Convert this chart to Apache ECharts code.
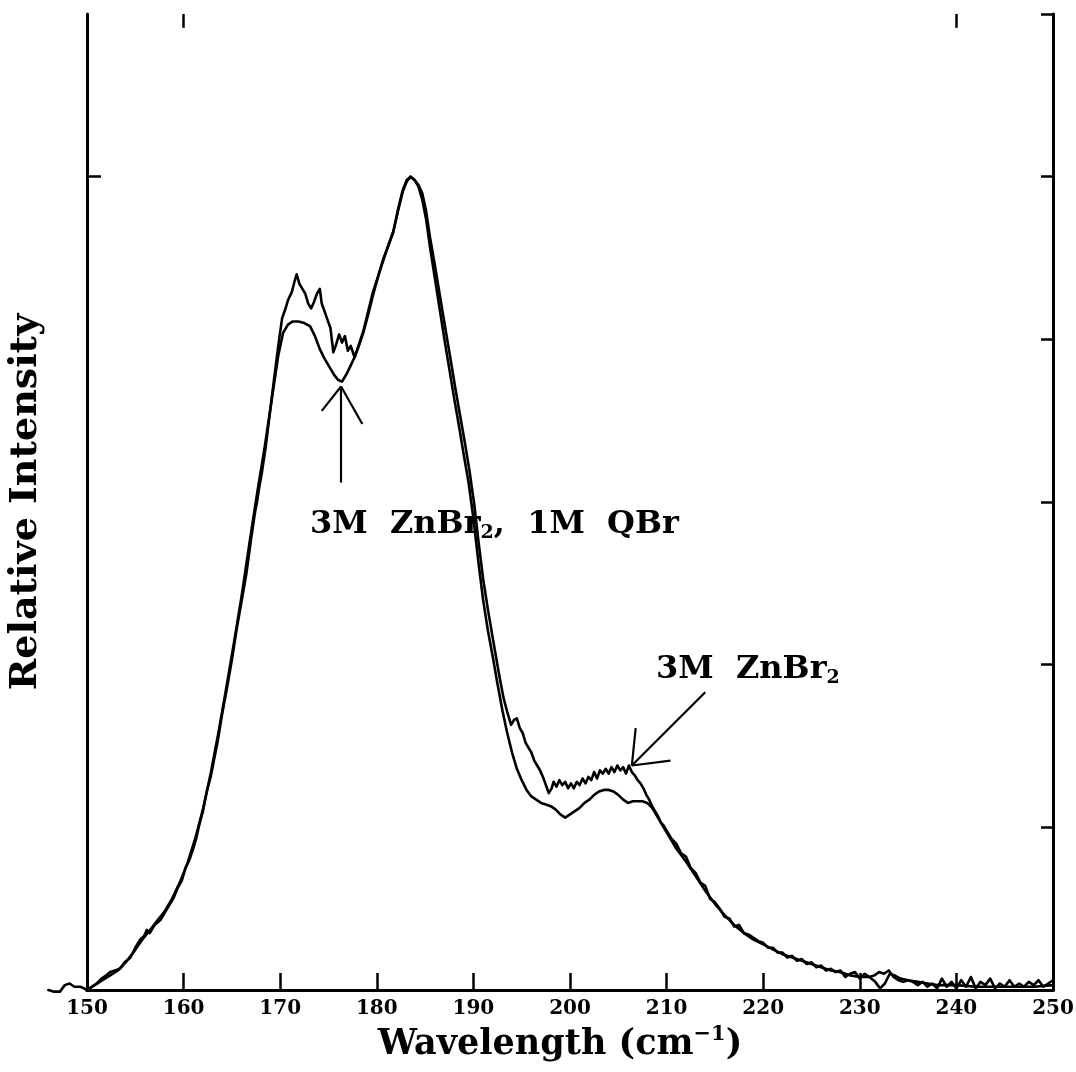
<!DOCTYPE html>
<html>
<head>
<meta charset="utf-8">
<title>Raman spectra of ZnBr2 solutions</title>
<script src="https://cdn.jsdelivr.net/npm/echarts@6/dist/echarts.min.js"></script>
<style>
  html, body { margin: 0; padding: 0; background: #fff; }
  #chart { width: 1076px; height: 1072px; }
</style>
</head>
<body>
<div id="chart"></div>
<script>
// Wavenumber axis ticks
const xTicks = [150, 160, 170, 180, 190, 200, 210, 220, 230, 240, 250];
const topTicks = [160, 240];
const leftTicks = [5];

// 3M ZnBr2 (noisy trace)
const znX = [
  146.0, 146.6, 147.2, 147.7, 148.2, 148.7, 149.3, 149.7, 150.0, 150.5,
  151.0, 151.5, 152.0, 152.4, 152.9, 153.4, 153.9, 154.5, 155.0, 155.5,
  155.9, 156.2, 156.5, 157.0, 157.6, 158.1, 158.6, 159.0, 159.4, 159.8,
  160.2, 160.6, 161.0, 161.3, 161.6, 162.0, 162.4, 162.8, 163.1, 163.5,
  164.0, 164.5, 165.0, 165.5, 166.0, 166.5, 167.0, 167.4, 167.6, 167.8,
  168.1, 168.5, 169.0, 169.5, 169.8, 170.2, 170.5, 170.8, 171.2, 171.5,
  171.7, 172.0, 172.3, 172.6, 172.9, 173.2, 173.5, 173.8, 174.1, 174.3,
  174.6, 174.9, 175.2, 175.5, 175.8, 176.1, 176.4, 176.7, 177.0, 177.3,
  177.7, 178.1, 178.6, 179.1, 179.6, 180.1, 180.7, 181.1, 181.7, 182.2,
  182.7, 183.1, 183.5, 183.9, 184.3, 184.7, 185.1, 185.5, 186.0, 186.5,
  187.0, 187.6, 188.1, 188.6, 189.1, 189.6, 190.1, 190.5, 191.0, 191.5,
  192.1, 192.6, 193.1, 193.5, 193.9, 194.2, 194.5, 194.8, 195.1, 195.4,
  195.7, 196.0, 196.3, 196.6, 196.9, 197.2, 197.5, 197.8, 198.1, 198.3,
  198.6, 198.9, 199.2, 199.5, 199.8, 200.1, 200.4, 200.7, 201.0, 201.3,
  201.6, 201.9, 202.2, 202.5, 202.8, 203.1, 203.4, 203.7, 204.0, 204.3,
  204.6, 204.9, 205.2, 205.5, 205.8, 206.1, 206.4, 206.7, 207.0, 207.3,
  207.6, 207.9, 208.2, 208.5, 208.8, 209.1, 209.4, 209.7, 210.0, 210.5,
  211.0, 211.5, 212.0, 212.5, 213.0, 213.5, 214.0, 214.5, 215.0, 215.5,
  216.0, 216.5, 217.0, 217.5, 218.0, 218.5, 219.0, 219.5, 220.0, 220.5,
  221.0, 221.5, 222.0, 222.5, 223.0, 223.5, 224.0, 224.5, 225.0, 225.5,
  226.0, 226.5, 227.0, 227.5, 228.0, 228.5, 229.0, 229.5, 230.0, 230.5,
  231.0, 231.5, 232.0, 232.5, 233.0, 233.5, 234.0, 234.5, 235.0, 235.5,
  236.0, 236.5, 237.0, 237.5, 238.0, 238.5, 239.0, 239.5, 240.0, 240.5,
  241.0, 241.5, 242.0, 242.5, 243.0, 243.5, 244.0, 244.5, 245.0, 245.5,
  246.0, 246.5, 247.0, 247.5, 248.0, 248.5, 249.0, 249.5, 250.0
];
const znY = [
  0.00, -0.01, -0.01, 0.03, 0.04, 0.02, 0.02, 0.01, 0.00, 0.02,
  0.04, 0.07, 0.09, 0.11, 0.12, 0.13, 0.17, 0.20, 0.26, 0.31,
  0.33, 0.37, 0.35, 0.40, 0.43, 0.48, 0.53, 0.57, 0.63, 0.67,
  0.75, 0.80, 0.87, 0.93, 1.01, 1.10, 1.22, 1.31, 1.40, 1.52,
  1.70, 1.86, 2.03, 2.22, 2.39, 2.56, 2.78, 2.94, 3.00, 3.08,
  3.18, 3.34, 3.58, 3.82, 3.96, 4.13, 4.18, 4.24, 4.29, 4.36,
  4.40, 4.34, 4.31, 4.28, 4.22, 4.19, 4.23, 4.28, 4.31, 4.22,
  4.17, 4.12, 4.07, 3.92, 3.97, 4.03, 3.98, 4.02, 3.93, 3.96,
  3.89, 3.96, 4.05, 4.17, 4.29, 4.38, 4.50, 4.56, 4.66, 4.80,
  4.92, 4.98, 5.00, 4.98, 4.95, 4.90, 4.79, 4.63, 4.46, 4.28,
  4.10, 3.89, 3.71, 3.54, 3.37, 3.19, 2.98, 2.77, 2.53, 2.34,
  2.13, 1.96, 1.80, 1.71, 1.63, 1.66, 1.67, 1.61, 1.58, 1.52,
  1.49, 1.46, 1.41, 1.38, 1.35, 1.31, 1.26, 1.21, 1.24, 1.28,
  1.25, 1.29, 1.26, 1.28, 1.24, 1.27, 1.24, 1.28, 1.26, 1.30,
  1.27, 1.31, 1.29, 1.34, 1.30, 1.35, 1.33, 1.36, 1.33, 1.37,
  1.34, 1.38, 1.35, 1.37, 1.33, 1.38, 1.34, 1.32, 1.29, 1.27,
  1.24, 1.20, 1.17, 1.13, 1.10, 1.07, 1.03, 1.01, 0.98, 0.93,
  0.90, 0.84, 0.82, 0.75, 0.72, 0.66, 0.64, 0.56, 0.54, 0.50,
  0.45, 0.44, 0.39, 0.40, 0.35, 0.34, 0.32, 0.30, 0.29, 0.26,
  0.26, 0.23, 0.23, 0.20, 0.21, 0.18, 0.19, 0.16, 0.17, 0.14,
  0.15, 0.12, 0.13, 0.11, 0.12, 0.08, 0.10, 0.11, 0.07, 0.10,
  0.08, 0.09, 0.11, 0.10, 0.12, 0.08, 0.06, 0.05, 0.06, 0.05,
  0.03, 0.05, 0.02, 0.04, 0.01, 0.07, 0.02, 0.05, 0.01, 0.06,
  0.02, 0.08, 0.01, 0.05, 0.03, 0.07, 0.01, 0.04, 0.02, 0.06,
  0.02, 0.04, 0.02, 0.05, 0.03, 0.06, 0.02, 0.04, 0.06
];

// 3M ZnBr2, 1M QBr (smooth trace)
const qbrX = [
  150.0, 150.8, 151.6, 152.4, 153.2, 154.0, 154.8, 155.6, 156.4, 157.2,
  158.0, 158.8, 159.6, 160.4, 161.2, 162.0, 162.8, 163.6, 164.4, 165.2,
  166.0, 166.8, 167.6, 168.4, 169.2, 169.8, 170.3, 170.8, 171.3, 171.9,
  172.5, 173.1, 173.6, 174.1, 174.6, 175.2, 175.6, 176.0, 176.4, 176.9,
  177.3, 177.7, 178.2, 178.6, 179.1, 179.6, 180.2, 180.7, 181.2, 181.7,
  182.2, 182.7, 183.1, 183.5, 183.9, 184.3, 184.7, 185.1, 185.5, 186.0,
  186.5, 187.0, 187.5, 188.0, 188.5, 189.0, 189.5, 190.0, 190.5, 191.0,
  191.5, 192.0, 192.5, 193.0, 193.5, 194.0, 194.5, 195.0, 195.5, 196.0,
  196.5, 197.0, 197.5, 198.0, 198.5, 199.0, 199.5, 200.0, 200.5, 201.0,
  201.5, 202.0, 202.5, 203.0, 203.5, 204.0, 204.5, 205.0, 205.5, 206.0,
  206.5, 207.0, 207.5, 208.0, 208.5, 209.0, 209.5, 210.0, 210.5, 211.0,
  212.0, 213.0, 214.0, 215.0, 216.0, 217.0, 218.0, 219.0, 220.0, 221.0,
  222.0, 223.0, 224.0, 225.0, 226.0, 227.0, 228.0, 229.0, 230.0, 231.0,
  231.6, 232.1, 232.6, 233.1, 233.6, 234.2, 235.0, 236.0, 237.0, 238.0,
  239.0, 240.0, 242.0, 244.0, 246.0, 248.0, 250.0
];
const qbrY = [
  0.00, 0.03, 0.06, 0.09, 0.12, 0.17, 0.23, 0.30, 0.36, 0.42,
  0.48, 0.56, 0.66, 0.78, 0.93, 1.11, 1.33, 1.58, 1.85, 2.13,
  2.42, 2.74, 3.05, 3.34, 3.66, 3.90, 4.04, 4.09, 4.11, 4.11,
  4.10, 4.08, 4.02, 3.94, 3.88, 3.82, 3.78, 3.75, 3.74, 3.79,
  3.84, 3.89, 3.97, 4.04, 4.15, 4.27, 4.40, 4.49, 4.58, 4.66,
  4.79, 4.91, 4.97, 5.00, 4.98, 4.94, 4.86, 4.74, 4.57, 4.38,
  4.19, 4.00, 3.82, 3.64, 3.47, 3.29, 3.12, 2.90, 2.64, 2.40,
  2.21, 2.05, 1.88, 1.72, 1.58, 1.46, 1.36, 1.29, 1.23, 1.19,
  1.17, 1.15, 1.14, 1.13, 1.11, 1.08, 1.06, 1.08, 1.10, 1.12,
  1.15, 1.17, 1.20, 1.22, 1.23, 1.23, 1.22, 1.20, 1.17, 1.15,
  1.16, 1.16, 1.16, 1.15, 1.12, 1.07, 1.02, 0.97, 0.92, 0.87,
  0.79, 0.70, 0.61, 0.53, 0.46, 0.40, 0.35, 0.31, 0.28, 0.25,
  0.22, 0.20, 0.18, 0.16, 0.14, 0.12, 0.11, 0.09, 0.08, 0.08,
  0.05, 0.01, 0.04, 0.10, 0.09, 0.07, 0.06, 0.05, 0.04, 0.03,
  0.03, 0.03, 0.02, 0.02, 0.02, 0.02, 0.03
];

// Annotation arrows, each as [x1, y1, x2, y2] in axis units
const arrowLines = [
  [176.3, 3.12, 176.3, 3.71],
  [174.3, 3.56, 176.3, 3.71],
  [178.5, 3.48, 176.3, 3.71],
  [214.0, 1.83, 206.4, 1.38],
  [206.8, 1.61, 206.4, 1.38],
  [210.4, 1.41, 206.4, 1.38]
];

const zip = (xs, ys) => xs.map((x, i) => [x, ys[i]]);

const xMin = 150, xMax = 250, yMax = 6;
const znAll = zip(znX, znY);
// the scan runs a little below the axis minimum; that lead-in is drawn unclipped
const znLead = znAll.filter(p => p[0] <= xMin);
const znMain = znAll.filter(p => p[0] >= xMin);

const serif = 'DejaVu Serif';
const chart = echarts.init(document.getElementById('chart'), null, { renderer: 'canvas' });

const axisLineStyle = { color: '#000', width: 3 };
const tickStyle = { color: '#000', width: 2.5 };
const traceStyle = { color: '#000', width: 2.6, join: 'round', cap: 'round' };

// short inward ticks hanging from the top frame edge
const topTickDepth = 0.085;
const topTickSegments = topTicks.map(v => [
  { coord: [v, yMax], lineStyle: tickStyle },
  { coord: [v, yMax - topTickDepth] }
]);

chart.setOption({
  backgroundColor: '#fff',
  animation: false,
  grid: { left: 87, right: 23, top: 14, bottom: 82, containLabel: false, outerBoundsMode: 'none' },
  xAxis: [
    {
      type: 'value',
      position: 'bottom',
      min: xMin, max: xMax, interval: 10,
      axisLine: { show: true, lineStyle: axisLineStyle },
      axisTick: { show: true, inside: true, length: 17, lineStyle: tickStyle },
      axisLabel: {
        color: '#000', fontFamily: serif, fontWeight: 'bold', fontSize: 20, margin: 9,
        customValues: xTicks
      },
      splitLine: { show: false },
      name: 'Wavelength (cm{sup|−1})',
      nameLocation: 'middle',
      nameGap: 34,
      nameTextStyle: {
        color: '#000', fontFamily: serif, fontWeight: 'bold', fontSize: 35,
        padding: [0, 20, 0, 0],
        rich: {
          sup: { fontFamily: serif, fontWeight: 'bold', fontSize: 21, padding: [0, 0, 20, 0], color: '#000' }
        }
      }
    },
    {
      type: 'value',
      position: 'top',
      min: xMin, max: xMax, interval: 10,
      axisLine: { show: true, lineStyle: axisLineStyle },
      axisTick: { show: false },
      axisLabel: { show: false },
      splitLine: { show: false }
    }
  ],
  yAxis: [
    {
      type: 'value',
      position: 'left',
      min: 0, max: yMax, interval: 1,
      axisLine: { show: true, lineStyle: axisLineStyle },
      axisTick: { show: true, inside: true, length: 14, customValues: leftTicks, lineStyle: tickStyle },
      axisLabel: { show: false },
      splitLine: { show: false },
      name: 'Relative Intensity',
      nameLocation: 'middle',
      nameGap: 42,
      nameTextStyle: { color: '#000', fontFamily: serif, fontWeight: 'bold', fontSize: 38 }
    },
    {
      type: 'value',
      position: 'right',
      min: 0, max: yMax, interval: 1,
      axisLine: { show: true, lineStyle: axisLineStyle },
      axisTick: { show: true, inside: true, length: 12, lineStyle: tickStyle },
      axisLabel: { show: false },
      splitLine: { show: false }
    }
  ],
  series: [
    {
      name: '3M ZnBr2, 1M QBr',
      type: 'line',
      xAxisIndex: 0, yAxisIndex: 0,
      data: zip(qbrX, qbrY),
      showSymbol: false,
      clip: false,
      lineStyle: traceStyle,
      markLine: {
        silent: true,
        symbol: 'none',
        label: { show: false },
        lineStyle: { color: '#000', width: 2.2, type: 'solid' },
        data: arrowLines.map(a => [
          { coord: [a[0], a[1]] },
          { coord: [a[2], a[3]] }
        ]).concat(topTickSegments)
      }
    },
    {
      name: '3M ZnBr2',
      type: 'line',
      xAxisIndex: 0, yAxisIndex: 0,
      data: znMain,
      showSymbol: false,
      clip: false,
      lineStyle: traceStyle
    },
    {
      name: '3M ZnBr2 lead-in',
      type: 'custom',
      xAxisIndex: 0, yAxisIndex: 0,
      data: znLead,
      clip: false,
      silent: true,
      renderItem: function (params, api) {
        if (params.dataIndex !== 0) return null;
        const pts = znLead.map(p => api.coord(p));
        return {
          type: 'polyline',
          shape: { points: pts },
          style: { stroke: '#000', lineWidth: 2.6, fill: null, lineJoin: 'round', lineCap: 'round' }
        };
      }
    }
  ],
  graphic: [
    {
      type: 'text',
      left: 310,
      top: 509,
      style: {
        text: '3M  ZnBr{sub|2},  1M  QBr',
        fill: '#000',
        font: 'bold 32px "DejaVu Serif"',
        rich: {
          sub: { fontFamily: serif, fontWeight: 'bold', fontSize: 19, padding: [16, 0, 0, 0], fill: '#000' }
        }
      }
    },
    {
      type: 'text',
      left: 656,
      top: 654,
      style: {
        text: '3M  ZnBr{sub|2}',
        fill: '#000',
        font: 'bold 32px "DejaVu Serif"',
        rich: {
          sub: { fontFamily: serif, fontWeight: 'bold', fontSize: 19, padding: [16, 0, 0, 0], fill: '#000' }
        }
      }
    }
  ]
});
</script>
</body>
</html>
